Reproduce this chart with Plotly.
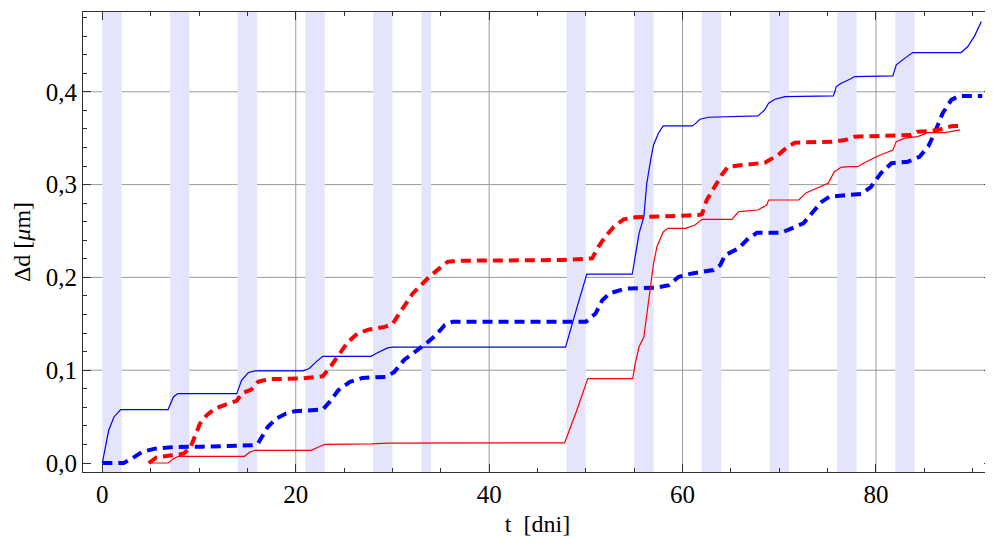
import plotly.graph_objects as go

# shaded intervals (days)
band_start = [0, 7, 14, 21, 28, 33, 48, 55, 62, 69, 76, 82]
band_end = [2, 9, 16, 23, 30, 34, 50, 57, 64, 71, 78, 84]

# blue solid
bs_x = [0, 0.3, 0.65, 1.2, 1.9, 6.8, 7.35, 7.8, 13.9, 14.4, 15.1, 15.8, 20.75, 21.4, 22.1, 22.8,
        27.8, 28.3, 29.5, 30.0, 47.9, 49.3, 50.1, 54.8, 55.1, 55.5, 56.0, 56.3, 56.7, 57.0, 57.5, 58.0,
        61.0, 61.3, 61.8, 62.7, 67.8, 68.5, 68.9, 69.55, 70.6, 75.6, 75.9, 76.4, 77.3, 77.8,
        81.75, 82.1, 83.0, 83.8, 88.8, 89.5, 90.2, 90.9]
bs_y = [0, 0.017, 0.035, 0.0496, 0.0576, 0.0576, 0.0712, 0.0748, 0.0748, 0.089, 0.0975, 0.0993,
        0.0993, 0.1018, 0.109, 0.115, 0.115, 0.118, 0.124, 0.1248, 0.1248, 0.1755, 0.2035,
        0.2035, 0.222, 0.2475, 0.2654, 0.3014, 0.3265, 0.3427, 0.3553, 0.3632,
        0.3632, 0.3654, 0.3704, 0.3726, 0.374, 0.3805, 0.3877, 0.392, 0.3948,
        0.3956, 0.4056, 0.4093, 0.4136, 0.4164, 0.4172, 0.429, 0.4363, 0.4423,
        0.4423, 0.4488, 0.4603, 0.4757]

# red solid
rs_x = [4.8, 6.8, 7.35, 7.87, 14.7, 15.26, 15.8, 21.6, 22.3, 23.0, 27.8, 29.6, 47.8, 49.0, 50.2,
        54.85, 55.1, 55.5, 56.0, 56.3, 56.7, 57.0, 57.35, 58.0, 58.5, 60.3, 61.3, 62.0, 65.1, 65.8,
        67.8, 68.7, 68.9, 72.0, 72.8, 73.7, 75.05, 75.7, 76.4, 77.1, 78.1, 78.8, 80.2,
        81.75, 82.1, 83.0, 84.3, 85.4, 87.1, 88.7]
rs_y = [0, 0, 0.0047, 0.0072, 0.0072, 0.0119, 0.0137, 0.0137, 0.017, 0.020, 0.0205, 0.0215,
        0.0217, 0.055, 0.091, 0.091, 0.107, 0.125, 0.136, 0.161, 0.19, 0.215, 0.233, 0.249, 0.2529,
        0.2529, 0.2564, 0.2626, 0.2626, 0.2708, 0.2726, 0.278, 0.2834, 0.2834, 0.2913, 0.295,
        0.3014, 0.3139, 0.3186, 0.3193, 0.3193, 0.3236, 0.3308, 0.3373, 0.3463, 0.35, 0.3517,
        0.356, 0.356, 0.3589]

# red dashed
rd_x = [4.8, 5.6, 7.2, 8.4, 9.1, 9.6, 10.1, 10.8, 11.65, 13.0, 13.9, 14.4, 15.4, 16.1, 17.1,
        20.6, 21.8, 22.8, 23.7, 24.5, 25.4, 26.4, 27.6, 29.2, 30.0, 30.7, 31.4, 32.1, 32.8, 33.8,
        34.85, 35.7, 36.9, 47.5, 50.65, 51.3, 52.0, 52.9, 53.9, 55.1, 61.65, 62.0, 62.5, 63.2,
        64.05, 64.7, 66.1, 68.5, 69.9, 70.9, 71.6, 74.4, 75.7, 76.8, 77.8, 83.6, 84.3, 85.7,
        86.7, 87.9, 88.6]
rd_y = [0, 0.006, 0.0083, 0.010, 0.0166, 0.030, 0.0425, 0.0515, 0.0587, 0.064, 0.0669, 0.0749,
        0.079, 0.0874, 0.0903, 0.091, 0.0928, 0.0935, 0.1054, 0.118, 0.1305, 0.1396, 0.1439,
        0.1467, 0.1496, 0.161, 0.172, 0.1827, 0.19, 0.2006, 0.2097, 0.2168, 0.218, 0.2187,
        0.2205, 0.233, 0.2438, 0.2546, 0.2626, 0.2647, 0.2672, 0.268, 0.2834, 0.296, 0.3104,
        0.3193, 0.3211, 0.3236, 0.332, 0.341, 0.3452, 0.3463, 0.3463, 0.348, 0.3517, 0.3535,
        0.357, 0.3578, 0.3597, 0.3632, 0.3632]

# blue dashed
bd_x = [0, 2.2, 3.06, 4.1, 5.46, 7.5, 10.3, 15.4, 16.1, 16.6, 17.1, 18.0, 19.0, 19.9, 22.8, 23.5,
        24.4, 25.6, 26.9, 29.35, 30.2, 31.2, 32.4, 33.5, 34.5, 35.4, 36.2, 50.0, 51.0, 51.7, 52.5,
        54.1, 57.2, 58.6, 59.6, 61.0, 63.2, 63.9, 64.4, 65.8, 66.8, 67.7, 70.2, 71.3, 72.5, 73.5,
        74.4, 75.2, 78.5, 79.5, 80.5, 81.6, 83.3, 84.5, 85.4, 86.05, 86.9, 87.8, 88.6, 91.0]
bd_y = [0, 0, 0.0047, 0.0119, 0.0155, 0.0173, 0.0176, 0.019, 0.021, 0.030, 0.0388, 0.048,
        0.0533, 0.0558, 0.0576, 0.0658, 0.0784, 0.0874, 0.0917, 0.0928, 0.0982, 0.111, 0.12,
        0.1288, 0.1378, 0.1486, 0.1521, 0.1521, 0.161, 0.1755, 0.183, 0.188, 0.1888, 0.1917,
        0.2006, 0.2043, 0.2079, 0.2133, 0.224, 0.2313, 0.242, 0.2481, 0.2481, 0.2529, 0.2583,
        0.2708, 0.2816, 0.287, 0.2899, 0.2977, 0.3122, 0.323, 0.3247, 0.330, 0.341, 0.3553,
        0.3769, 0.3913, 0.3956, 0.3956]

x_grid = [20, 40, 60, 80]
y_grid = [0.1, 0.2, 0.3, 0.4]

FONT = "Liberation Serif"

fig = go.Figure()

shapes = []
for gx in x_grid:
    shapes.append(dict(type="line", xref="x", yref="paper", x0=gx, x1=gx, y0=0, y1=1,
                       line=dict(color="#9a9a9a", width=1), layer="below"))
for gy in y_grid:
    shapes.append(dict(type="line", xref="paper", yref="y", x0=0, x1=1, y0=gy, y1=gy,
                       line=dict(color="#9a9a9a", width=1), layer="below"))
for a, b in zip(band_start, band_end):
    shapes.append(dict(type="rect", xref="x", yref="paper", x0=a, x1=b, y0=0, y1=1,
                       fillcolor="rgb(228,228,250)", line=dict(width=0), layer="below"))

fig.add_trace(go.Scatter(x=bd_x, y=bd_y, mode="lines",
                         line=dict(color="#0000ff", width=4, dash="10px,6px")))
fig.add_trace(go.Scatter(x=rd_x, y=rd_y, mode="lines",
                         line=dict(color="#ff0000", width=4, dash="10px,6px")))
fig.add_trace(go.Scatter(x=rs_x, y=rs_y, mode="lines",
                         line=dict(color="#ff0000", width=1.2)))
fig.add_trace(go.Scatter(x=bs_x, y=bs_y, mode="lines",
                         line=dict(color="#0000ff", width=1.2)))

axis_common = dict(
    showgrid=False, zeroline=False, showline=True, linecolor="#333333", linewidth=1,
    mirror="ticks", ticks="inside", ticklen=8, tickcolor="#333333", tickwidth=1,
    tickfont=dict(family=FONT, size=25, color="black"), automargin=False,
)

# the page body adds an 8px offset, so the figure is sized to fit the window
fig.update_layout(
    width=985, height=539,
    margin=dict(l=75, r=1, t=4, b=75),
    paper_bgcolor="white", plot_bgcolor="white",
    showlegend=False,
    separators=",.",
    shapes=shapes,
    xaxis=dict(range=[-2, 92], tick0=0, dtick=20,
               minor=dict(dtick=5, tick0=0, ticks="inside", ticklen=4, tickcolor="#333333"),
               title=dict(text="t\u2002[dni]", font=dict(family=FONT, size=24, color="black"),
                          standoff=8),
               **axis_common),
    yaxis=dict(range=[-0.0097, 0.486], tick0=0, dtick=0.1, tickformat=".1f",
               minor=dict(dtick=0.02, tick0=0, ticks="inside", ticklen=4, tickcolor="#333333"),
               title=dict(text="Δd [<i>μ</i>m]", font=dict(family=FONT, size=24, color="black"),
                          standoff=8),
               **axis_common),
)

fig.write_html("out.html")
